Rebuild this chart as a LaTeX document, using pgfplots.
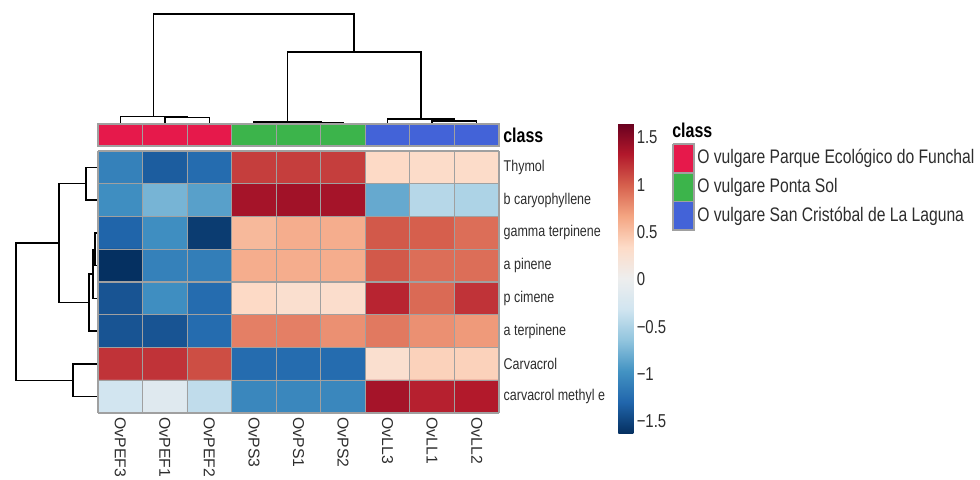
\documentclass[border=0pt]{standalone}
\usepackage{pgfplots}
\pgfplotsset{compat=1.18}
\usepackage{fontspec}
\setmainfont{Liberation Sans}[FakeStretch=0.8]
\newfontfamily\plainsans{Liberation Sans}
\definecolor{cred}{RGB}{230,25,75}
\definecolor{cgreen}{RGB}{60,180,75}
\definecolor{cblue}{RGB}{67,99,216}
\definecolor{bgray}{RGB}{160,160,160}
\definecolor{lblcol}{RGB}{45,45,45}
\pgfplotsset{
  colormap={rdbu}{rgb255=(5,48,97) rgb255=(33,102,172) rgb255=(67,147,195) rgb255=(146,197,222) rgb255=(209,229,240) rgb255=(238,238,238) rgb255=(253,219,199) rgb255=(244,165,130) rgb255=(214,96,77) rgb255=(178,24,43) rgb255=(103,0,31)},
  dend/.style={black, line width=1.1pt, no marks, sharp plot},
}
\begin{document}
\begin{tikzpicture}
\useasboundingbox (0,0) rectangle (735pt,-359.25pt);
% ---------- overlay axis in pixel coordinates: dendrograms and class legend
\begin{axis}[at={(0,0)}, anchor=north west, width=735pt, height=359.25pt, scale only axis,
  xmin=0, xmax=980, ymin=0, ymax=479, y dir=reverse, hide axis, clip=false]
  % column dendrogram
  \addplot[dend] coordinates {(164.8,123) (164.8,117.5) (209.4,117.5) (209.4,123)};
  \addplot[dend] coordinates {(120.3,123) (120.3,116.7) (187.1,116.7) (187.1,117.5)};
  \addplot[dend] coordinates {(298.5,123) (298.5,122.6) (343.1,122.6) (343.1,123)};
  \addplot[dend] coordinates {(253.9,123) (253.9,122.2) (320.8,122.2) (320.8,122.6)};
  \addplot[dend] coordinates {(432.2,123) (432.2,121.2) (476.7,121.2) (476.7,123)};
  \addplot[dend] coordinates {(387.6,123) (387.6,119) (454.45,119) (454.45,121.2)};
  \addplot[dend] coordinates {(287.35,122.2) (287.35,52) (421,52) (421,119)};
  \addplot[dend] coordinates {(153.7,116.7) (153.7,14) (354.2,14) (354.2,52)};
  % row dendrogram
  \addplot[dend] coordinates {(98,167.4) (86,167.4) (86,200.1) (98,200.1)};
  \addplot[dend] coordinates {(98,232.9) (95,232.9) (95,265.6) (98,265.6)};
  \addplot[dend] coordinates {(95,249.25) (93,249.25) (93,298.4) (98,298.4)};
  \addplot[dend] coordinates {(93,273.8) (89,273.8) (89,331.1) (98,331.1)};
  \addplot[dend] coordinates {(86,183.75) (59,183.75) (59,302.45) (89,302.45)};
  \addplot[dend] coordinates {(98,363.9) (73,363.9) (73,396.6) (98,396.6)};
  \addplot[dend] coordinates {(59,243.1) (16,243.1) (16,380.25) (73,380.25)};
  % class legend
  \addplot[fill=cred, draw=bgray, line width=0.9pt, no marks] coordinates {(673,144) (694,144) (694,173) (673,173) (673,144)};
  \addplot[fill=cgreen, draw=bgray, line width=0.9pt, no marks] coordinates {(673,173) (694,173) (694,201.5) (673,201.5) (673,173)};
  \addplot[fill=cblue, draw=bgray, line width=0.9pt, no marks] coordinates {(673,201.5) (694,201.5) (694,230) (673,230) (673,201.5)};
  \node[anchor=west, inner sep=0pt, font=\bfseries\fontsize{15}{15}\selectfont] at (axis cs:672,130) {class};
  \node[anchor=west, inner sep=0pt, text=lblcol, font=\fontsize{14.7}{15}\selectfont] at (axis cs:697,158.5) {O vulgare Parque Ecológico do Funchal};
  \node[anchor=west, inner sep=0pt, text=lblcol, font=\fontsize{14.7}{15}\selectfont] at (axis cs:697,187.5) {O vulgare Ponta Sol};
  \node[anchor=west, inner sep=0pt, text=lblcol, font=\fontsize{14.7}{15}\selectfont] at (axis cs:697,216) {O vulgare San Cristóbal de La Laguna};
  \node[anchor=west, inner sep=0pt, font=\bfseries\fontsize{15}{15}\selectfont] at (axis cs:503,135) {class};
\end{axis}
% ---------- class annotation bar
\begin{axis}[at={(73.5pt,-93pt)}, anchor=north west, width=300.75pt, height=16.5pt, scale only axis,
  xmin=0.5, xmax=9.5, ymin=0, ymax=1, hide axis, clip=false,
  ybar, bar width=1, bar shift=0pt]
  \addplot[fill=cred, draw=bgray, line width=0.9pt] coordinates {(1,1) (2,1) (3,1)};
  \addplot[fill=cgreen, draw=bgray, line width=0.9pt] coordinates {(4,1) (5,1) (6,1)};
  \addplot[fill=cblue, draw=bgray, line width=0.9pt] coordinates {(7,1) (8,1) (9,1)};
\end{axis}
% ---------- heatmap
\begin{axis}[at={(73.5pt,-113.25pt)}, anchor=north west, width=300.75pt, height=196.5pt, scale only axis,
  xmin=0.5, xmax=9.5, ymin=0.5, ymax=8.5, y dir=reverse, enlargelimits=false,
  axis line style={draw=none}, major tick length=0pt, minor tick length=0pt,
  xtick={1,...,9},
  xticklabels={OvPEF3,OvPEF1,OvPEF2,OvPS3,OvPS1,OvPS2,OvLL3,OvLL1,OvLL2},
  xticklabel style={rotate=-90, anchor=west, text=lblcol, font=\plainsans\fontsize{11.8}{12}\selectfont},
  ytick={1,...,8},
  yticklabels={Thymol,b caryophyllene,gamma terpinene,a pinene,p cimene,a terpinene,Carvacrol,carvacrol methyl e},
  yticklabel pos=right,
  yticklabel style={anchor=west, text=lblcol, font=\fontsize{11.7}{12}\selectfont},
  minor xtick={0.5,1.5,...,9.5}, minor ytick={0.5,1.5,...,8.5},
  xminorgrids, yminorgrids, minor grid style={bgray, line width=0.9pt},
  axis on top,
  colormap name=rdbu, point meta min=-1.62, point meta max=1.65,
  colorbar,
  colorbar style={at={(parent axis.north east)}, anchor=north west, xshift=81pt, yshift=21pt,
    width=11.25pt, height=232.5pt, scale only axis,
    ytick={-1.5,-1,-0.5,0,0.5,1,1.5},
    yticklabels={−1.5,−1,−0.5,0,0.5,1,1.5},
    yticklabel style={text=lblcol, font=\fontsize{14}{14}\selectfont, xshift=-1pt},
    major tick length=0pt, axis line style={draw=none}},
]
\addplot[matrix plot*, mesh/cols=9, point meta=explicit] table[meta=c] {
x y c
1 1 -1.10
2 1 -1.35
3 1 -1.25
4 1 1.15
5 1 1.15
6 1 1.15
7 1 0.35
8 1 0.33
9 1 0.33
1 2 -1.00
2 2 -0.75
3 2 -0.88
4 2 1.38
5 2 1.40
6 2 1.38
7 2 -0.82
8 2 -0.45
9 2 -0.50
1 3 -1.30
2 3 -1.00
3 3 -1.55
4 3 0.55
5 3 0.62
6 3 0.62
7 3 1.03
8 3 1.00
9 3 0.93
1 4 -1.62
2 4 -1.10
3 4 -1.12
4 4 0.62
5 4 0.62
6 4 0.62
7 4 1.03
8 4 0.93
9 4 0.93
1 5 -1.40
2 5 -1.00
3 5 -1.25
4 5 0.35
5 5 0.28
6 5 0.30
7 5 1.27
8 5 0.95
9 5 1.20
1 6 -1.40
2 6 -1.40
3 6 -1.25
4 6 0.85
5 6 0.85
6 6 0.77
7 6 0.88
8 6 0.77
9 6 0.72
1 7 1.20
2 7 1.20
3 7 1.08
4 7 -1.25
5 7 -1.25
6 7 -1.25
7 7 0.28
8 7 0.40
9 7 0.40
1 8 -0.30
2 8 -0.15
3 8 -0.40
4 8 -1.05
5 8 -1.05
6 8 -1.05
7 8 1.38
8 8 1.29
9 8 1.32
};
\end{axis}
\end{tikzpicture}
\end{document}
